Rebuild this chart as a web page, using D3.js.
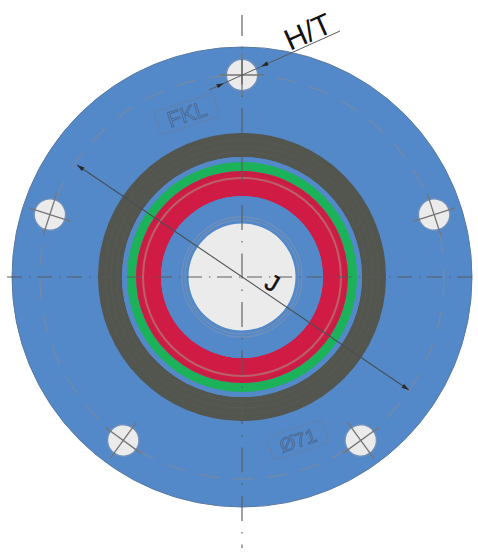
<!DOCTYPE html>
<html>
<head>
<meta charset="utf-8">
<script src="https://cdn.jsdelivr.net/npm/d3@7"></script>
<style>
  html, body { margin: 0; padding: 0; background: #fff; }
  svg { display: block; }
  text { font-family: "Liberation Sans", Arial, sans-serif; }
</style>
</head>
<body>
<div class="canvas"></div>
<script>
// ring bands, radii (drawing units)
const bandNames = ['flange', 'seal', 'gap', 'green', 'red', 'bore', 'hole'];
const bandOuter = [230, 144, 120, 115, 106, 81, 53.5];
const bandInner = [0, 120, 115, 106, 81, 53.5, 0];
const bandColours = ['#5289c9', '#53544f', '#5289c9', '#1fb25a', '#d01c45', '#5289c9', '#ebebeb'];

// faint rings drawn on top of the bands
const seamRadii = [137, 131, 125, 104, 99, 60, 57];
const seamColours = ['#595a55', '#595a55', '#595a55', '#b8243f', '#b9616c', '#6f8fba', '#6f8fba'];
const seamWidths = [1, 1, 1, 1, 2, 1.3, 1.3];

// bolt holes
const boltAngles = [-90, -18, 54, 126, 198];
const boltCircle = 202;
const boltRadius = 15;

// labels
const dimLabels = ['H/T', 'J'];
const stampLabels = ['FKL', 'Ø71'];

const width = 478;
const height = 552;
const cx = 242;
const cy = 277;

const svg = d3.select('.canvas')
  .append('svg')
  .attr('width', width)
  .attr('height', height);

const defs = svg.append('defs');

// the reference is a slightly soft raster
defs.append('filter')
  .attr('id', 'soft')
  .append('feGaussianBlur')
  .attr('stdDeviation', 0.45);

defs.append('marker')
  .attr('id', 'tip')
  .attr('viewBox', '0 0 10 6')
  .attr('refX', 10)
  .attr('refY', 3)
  .attr('markerWidth', 9)
  .attr('markerHeight', 4.5)
  .attr('markerUnits', 'userSpaceOnUse')
  .attr('orient', 'auto')
  .append('path')
  .attr('d', 'M0,0L10,3L0,6Z')
  .attr('fill', '#2b2b2b');

const r = d3.scaleLinear().domain([0, 230]).range([0, 230]);
const toRad = d3.scaleLinear().domain([0, 360]).range([0, 2 * Math.PI]);
const polar = (rad, deg) => [r(rad) * Math.cos(toRad(deg)), r(rad) * Math.sin(toRad(deg))];

const graph = svg.append('g')
  .attr('filter', 'url(#soft)')
  .append('g')
  .attr('transform', `translate(${cx}, ${cy})`);

const arc = d3.arc()
  .startAngle(0)
  .endAngle(2 * Math.PI);

// main bands
graph.selectAll('.band')
  .data(bandNames.map((name, i) => ({ name, outer: bandOuter[i], inner: bandInner[i], colour: bandColours[i] })))
  .enter()
  .append('path')
  .attr('class', 'band')
  .attr('d', d => arc({ innerRadius: r(d.inner), outerRadius: r(d.outer) }))
  .attr('fill', d => d.colour);

// flange edge
graph.append('circle')
  .attr('r', r(230))
  .attr('fill', 'none')
  .attr('stroke', '#5a7aa3')
  .attr('stroke-width', 1);

graph.selectAll('.seam')
  .data(seamRadii)
  .enter()
  .append('circle')
  .attr('class', 'seam')
  .attr('r', d => r(d))
  .attr('fill', 'none')
  .attr('stroke', (d, i) => seamColours[i])
  .attr('stroke-width', (d, i) => seamWidths[i]);

// dashed bolt circle
graph.append('circle')
  .attr('r', r(boltCircle))
  .attr('fill', 'none')
  .attr('stroke', '#7289a8')
  .attr('stroke-width', 1.4)
  .attr('stroke-dasharray', '20 14');

// bolt holes with their cross marks
const bolts = graph.selectAll('.bolt')
  .data(boltAngles)
  .enter()
  .append('g')
  .attr('class', 'bolt')
  .attr('transform', d => `translate(${polar(boltCircle, d)}) rotate(${d + 90})`);

bolts.append('circle')
  .attr('r', r(boltRadius + 1.5))
  .attr('fill', '#6f90bc');

bolts.append('circle')
  .attr('r', r(boltRadius))
  .attr('fill', '#ebebeb');

bolts.selectAll('.cross')
  .data([0, 90])
  .enter()
  .append('line')
  .attr('class', 'cross')
  .attr('transform', d => `rotate(${d})`)
  .attr('x1', -r(boltRadius + 7))
  .attr('x2', r(boltRadius + 7))
  .attr('stroke', '#757575')
  .attr('stroke-width', 1.3);

// centre lines
const line = d3.line();

graph.append('path')
  .attr('d', line([[0, -262], [0, 271]]))
  .attr('fill', 'none')
  .attr('stroke', '#5a5a5a')
  .attr('stroke-opacity', 0.65)
  .attr('stroke-width', 1.7)
  .attr('stroke-dasharray', '25 11 1.5 11')
  .attr('stroke-dashoffset', 4);

graph.append('path')
  .attr('d', line([[-235, 0], [236, 0]]))
  .attr('fill', 'none')
  .attr('stroke', '#5a5a5a')
  .attr('stroke-opacity', 0.65)
  .attr('stroke-width', 1.7)
  .attr('stroke-dasharray', '15 7 1.5 6.5');

// diameter J dimension line
graph.append('path')
  .attr('d', line([[-165, -112], [167, 113]]))
  .attr('stroke', '#4a4f55')
  .attr('stroke-width', 1.1)
  .attr('fill', 'none');

// H/T dimension line, arrows point in at the bolt hole
graph.append('path')
  .attr('d', line([[-33, -187], [98, -246]]))
  .attr('stroke', '#5a5a5a')
  .attr('stroke-width', 1)
  .attr('fill', 'none');

[[[-33, -187], [-18, -193.8]], [[40, -220], [19, -210.6]], [[-165, -112], [-158, -107.2]], [[167, 113], [160, 108.3]]].forEach((pts, i) => {
  const ends = i < 2 ? pts : [pts[1], pts[0]];
  graph.append('path')
    .attr('d', line(ends))
    .attr('stroke', 'none')
    .attr('fill', 'none')
    .attr('marker-end', 'url(#tip)');
});

// dimension text
svg.selectAll('.dim')
  .data(dimLabels)
  .enter()
  .append('text')
  .attr('class', 'dim')
  .attr('transform', (d, i) => (i === 0 ? 'translate(290, 51) rotate(-24)' : 'translate(263, 287) rotate(30)'))
  .attr('font-size', (d, i) => (i === 0 ? 30 : 24))
  .attr('stroke', (d, i) => (i === 0 ? 'none' : '#111'))
  .attr('stroke-width', 0.5)
  .attr('fill', '#111')
  .text(d => d);

// stamped markings
const stamps = graph.selectAll('.stamp')
  .data(stampLabels)
  .enter()
  .append('g')
  .attr('class', 'stamp')
  .attr('transform', (d, i) => (i === 0 ? 'translate(-55, -163) rotate(-18)' : 'translate(56, 163) rotate(-18)'));

stamps.append('rect')
  .attr('x', (d, i) => (i === 0 ? -31 : -29))
  .attr('y', -12)
  .attr('width', (d, i) => (i === 0 ? 62 : 58))
  .attr('height', 24)
  .attr('rx', 3)
  .attr('fill', 'none')
  .attr('stroke', '#6381ab')
  .attr('stroke-width', 1);

stamps.append('text')
  .attr('text-anchor', 'middle')
  .attr('dy', '0.36em')
  .attr('font-size', (d, i) => (i === 0 ? 22 : 20))
  .attr('fill', 'none')
  .attr('stroke', '#4f6b94')
  .attr('stroke-width', 1)
  .text(d => d);
</script>
</body>
</html>
